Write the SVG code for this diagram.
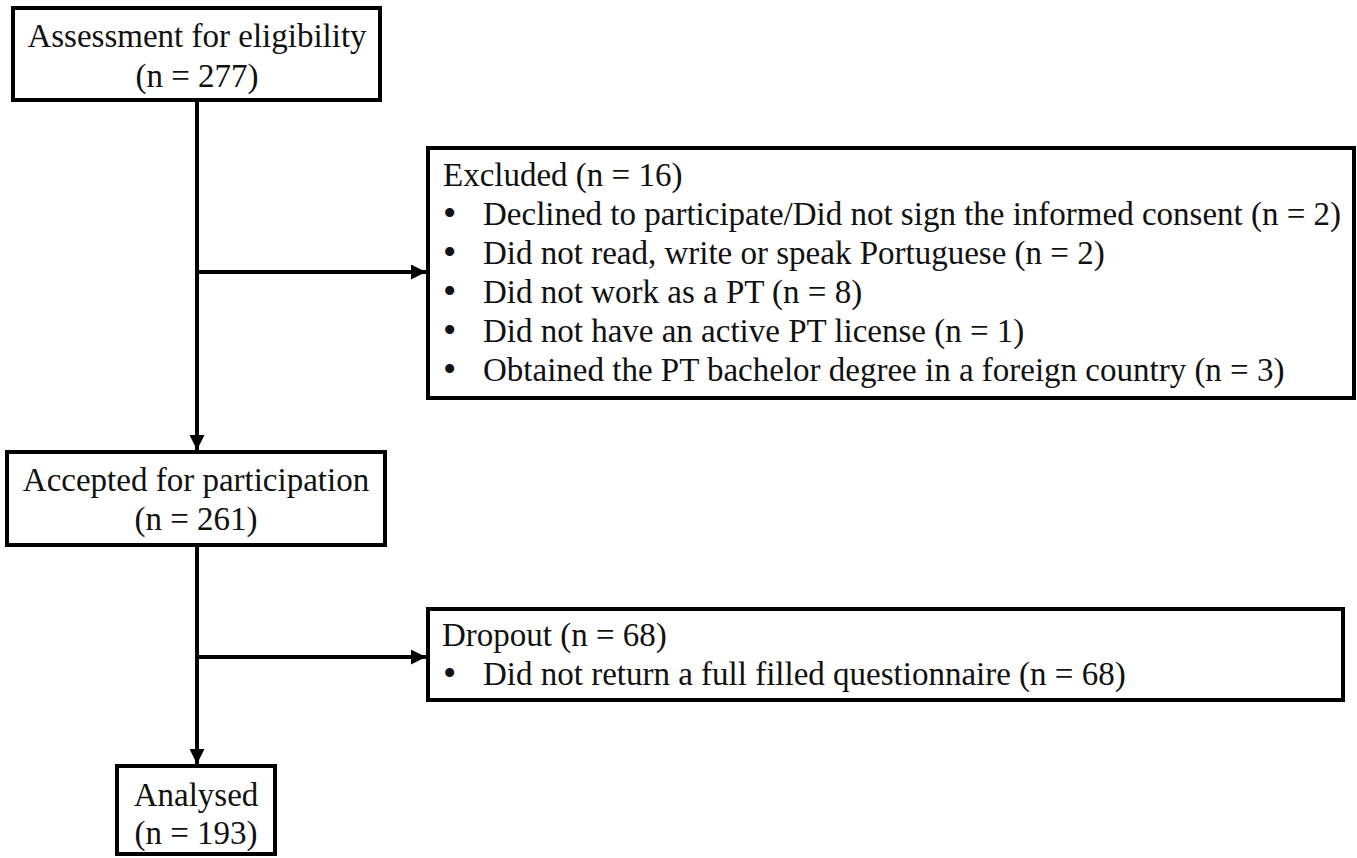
<svg xmlns="http://www.w3.org/2000/svg" width="1357" height="858" viewBox="0 0 1357 858">
<defs>
<style>
.box{fill:#fff;stroke:#000;stroke-width:4}
.t{font-family:"Liberation Serif","Times New Roman",serif;font-size:33px;fill:#111}
.b{font-size:38px}
.c{text-anchor:middle}
.ln{stroke:#000;stroke-width:4;fill:none}
</style>
<marker id="ah" markerUnits="userSpaceOnUse" markerWidth="15" markerHeight="15" refX="15" refY="7.5" orient="auto">
<path d="M0,0 L15,7.5 L0,15 z" fill="#000"/>
</marker>
</defs>
<rect width="1357" height="858" fill="#fff"/>
<g id="connectors">
<line class="ln" x1="197" y1="100" x2="197" y2="450" marker-end="url(#ah)"/>
<line class="ln" x1="197" y1="272" x2="426" y2="272" marker-end="url(#ah)"/>
<line class="ln" x1="197" y1="545" x2="197" y2="764" marker-end="url(#ah)"/>
<line class="ln" x1="197" y1="657" x2="426" y2="657" marker-end="url(#ah)"/>
</g>
<g id="assessment">
<rect class="box" x="13" y="8" width="367" height="92"/>
<text class="t c" x="197" y="47">Assessment for eligibility</text>
<text class="t c" x="197" y="87">(n = 277)</text>
</g>
<g id="excluded">
<rect class="box" x="428" y="148" width="926" height="250"/>
<text class="t" x="443" y="186">Excluded (n = 16)</text>
<text class="t b" x="443" y="226">•</text><text class="t" x="483" y="225">Declined to participate/Did not sign the informed consent (n = 2)</text>
<text class="t b" x="443" y="265">•</text><text class="t" x="483" y="264">Did not read, write or speak Portuguese (n = 2)</text>
<text class="t b" x="443" y="304">•</text><text class="t" x="483" y="303">Did not work as a PT (n = 8)</text>
<text class="t b" x="443" y="343">•</text><text class="t" x="483" y="342">Did not have an active PT license (n = 1)</text>
<text class="t b" x="443" y="382">•</text><text class="t" x="483" y="381">Obtained the PT bachelor degree in a foreign country (n = 3)</text>
</g>
<g id="accepted">
<rect class="box" x="7" y="452" width="378" height="93"/>
<text class="t c" x="196" y="491">Accepted for participation</text>
<text class="t c" x="196" y="530">(n = 261)</text>
</g>
<g id="dropout">
<rect class="box" x="428" y="609" width="915" height="91"/>
<text class="t" x="442" y="646">Dropout (n = 68)</text>
<text class="t b" x="443" y="686">•</text><text class="t" x="483" y="685">Did not return a full filled questionnaire (n = 68)</text>
</g>
<g id="analysed">
<rect class="box" x="117" y="766" width="158" height="88"/>
<text class="t c" x="196" y="806">Analysed</text>
<text class="t c" x="196" y="844">(n = 193)</text>
</g>
</svg>
